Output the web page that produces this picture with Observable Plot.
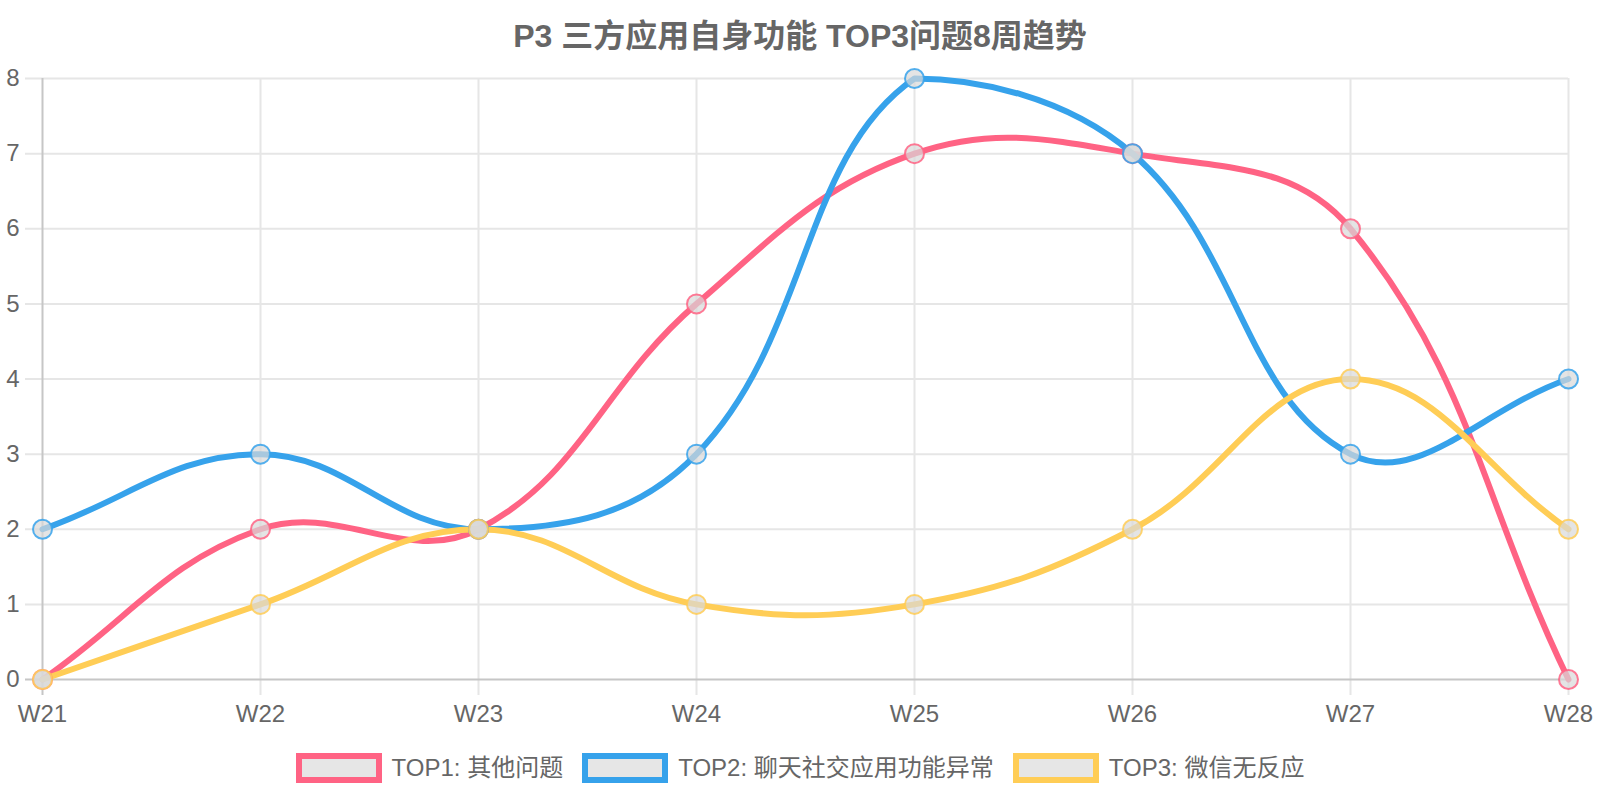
<!DOCTYPE html>
<html>
<head>
<meta charset="utf-8">
<script src="https://cdn.jsdelivr.net/npm/d3@7"></script>
<script src="https://cdn.jsdelivr.net/npm/@observablehq/plot@0.6"></script>
<style>
  html, body { margin: 0; padding: 0; background: #fff; }
  body { width: 1600px; height: 800px; overflow: hidden; font-family: "Liberation Sans", Arial, "Noto Sans CJK SC", sans-serif; }
  #title { height: 60px; box-sizing: border-box; padding-top: 21px; line-height: 30px; font-size: 32px; font-weight: bold; color: #666; text-align: center; white-space: nowrap; }
  #chart svg { display: block; }
  #legend { display: flex; justify-content: center; align-items: center; padding-top: 13px; }
  .item { display: flex; align-items: center; margin: 0 9.5px; }
  .box { width: 74px; height: 18px; border: 6px solid; background: #e6e6e6; margin-right: 10px; }
  .label { font-size: 24px; color: #666; line-height: 30px; white-space: nowrap; }
</style>
</head>
<body>
<div id="title">P3 三方应用自身功能 TOP3问题8周趋势</div>
<div id="chart"></div>
<div id="legend"></div>
<script>
const weeks = ["W21", "W22", "W23", "W24", "W25", "W26", "W27", "W28"];
const top1 = [0, 2, 2, 5, 7, 7, 6, 0];
const top2 = [2, 3, 2, 3, 8, 7, 3, 4];
const top3 = [0, 1, 2, 1, 1, 2, 4, 2];
const seriesNames = ["TOP1: 其他问题", "TOP2: 聊天社交应用功能异常", "TOP3: 微信无反应"];
const seriesColors = ["#ff6384", "#36a2eb", "#ffcd56"];
const yTicks = [0, 1, 2, 3, 4, 5, 6, 7, 8];

const W = 1600, H = 680, mL = 41, mR = 32, mT = 18, mB = 61;

const data = [];
[top1, top2, top3].forEach((vals, s) => {
  vals.forEach((v, i) => data.push({ week: weeks[i], value: v, series: seriesNames[s] }));
});

// Chart.js-style spline (tension 0.4) with bezier control points capped to the chart area
function chartjsCurve(context) {
  let pts = [];
  const left = mL, right = W - mR, top = mT, bottom = H - mB;
  const cap = (p) => [Math.max(left, Math.min(right, p[0])), Math.max(top, Math.min(bottom, p[1]))];
  return {
    areaStart() {}, areaEnd() {},
    lineStart() { pts = []; },
    point(x, y) { pts.push([+x, +y]); },
    lineEnd() {
      const n = pts.length, t = 0.4;
      if (!n) return;
      const cps = pts.map((p, i) => {
        const prev = pts[i - 1] || p, next = pts[i + 1] || p;
        const d01 = Math.hypot(p[0] - prev[0], p[1] - prev[1]);
        const d12 = Math.hypot(next[0] - p[0], next[1] - p[1]);
        let s01 = d01 / (d01 + d12), s12 = d12 / (d01 + d12);
        if (isNaN(s01)) s01 = 0;
        if (isNaN(s12)) s12 = 0;
        const fa = t * s01, fb = t * s12;
        return {
          prev: cap([p[0] - fa * (next[0] - prev[0]), p[1] - fa * (next[1] - prev[1])]),
          next: cap([p[0] + fb * (next[0] - prev[0]), p[1] + fb * (next[1] - prev[1])])
        };
      });
      context.moveTo(pts[0][0], pts[0][1]);
      for (let i = 1; i < n; i++) {
        context.bezierCurveTo(cps[i - 1].next[0], cps[i - 1].next[1], cps[i].prev[0], cps[i].prev[1], pts[i][0], pts[i][1]);
      }
    }
  };
}

const chart = Plot.plot({
  width: W, height: H,
  marginLeft: mL, marginRight: mR, marginTop: mT, marginBottom: mB,
  style: { fontFamily: '"Liberation Sans", Arial, "Noto Sans CJK SC", sans-serif', fontSize: "24px", color: "#666", background: "#fff", overflow: "visible" },
  x: { type: "point", domain: weeks, padding: 0 },
  y: { domain: [0, 8] },
  color: { domain: seriesNames, range: seriesColors },
  marks: [
    Plot.ruleY(yTicks.slice(1), { y: d => d, stroke: "#e6e6e6", strokeWidth: 2, insetLeft: -16 }),
    Plot.ruleX(weeks.slice(1), { x: d => d, stroke: "#e6e6e6", strokeWidth: 2, insetBottom: -16 }),
    Plot.ruleY([yTicks[0]], { y: d => d, stroke: "#c6c6c6", strokeWidth: 2, insetLeft: -16 }),
    Plot.ruleX([weeks[0]], { x: d => d, stroke: "#c6c6c6", strokeWidth: 2, insetBottom: -16 }),
    Plot.axisY({ ticks: yTicks, tickSize: 0, tickPadding: 22, fontSize: 24, fill: "#666", label: null }),
    Plot.axisX({ tickSize: 0, tickPadding: 25, fontSize: 24, fill: "#666", label: null }),
    Plot.line(data, { x: "week", y: "value", z: "series", stroke: "series", strokeWidth: 6, curve: chartjsCurve }),
    Plot.dot(data, { x: "week", y: "value", r: 9.5, fill: "#d8d8d8", fillOpacity: 0.7, stroke: "series", strokeOpacity: 0.85, strokeWidth: 2 })
  ]
});
document.getElementById("chart").appendChild(chart);

const legend = document.getElementById("legend");
seriesNames.forEach((name, i) => {
  const item = document.createElement("div");
  item.className = "item";
  const box = document.createElement("div");
  box.className = "box";
  box.style.borderColor = seriesColors[i];
  const label = document.createElement("span");
  label.className = "label";
  label.textContent = name;
  item.appendChild(box);
  item.appendChild(label);
  legend.appendChild(item);
});
</script>
</body>
</html>
